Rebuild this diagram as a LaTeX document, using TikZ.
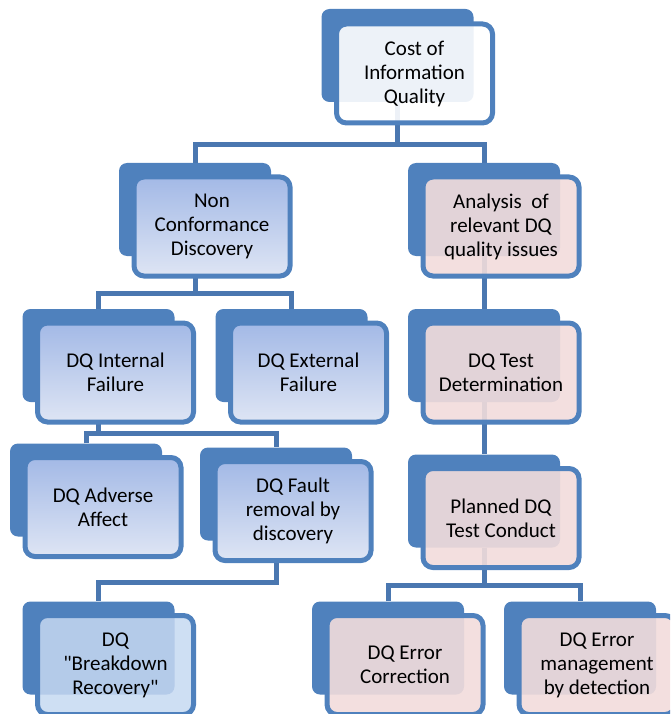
\documentclass[tikz,border=0pt]{standalone}
\usepackage{fontspec}
\setmainfont{Carlito}
\usetikzlibrary{calc}
\usetikzlibrary{backgrounds}
\definecolor{dqblue}{HTML}{4F81BD}
\definecolor{dqline}{HTML}{4A77B0}
\definecolor{dqtop}{HTML}{A3B9E6}
\definecolor{dqbot}{HTML}{DEE5F4}
\definecolor{dqpink}{HTML}{F2DCDB}
\definecolor{dqpale}{HTML}{C6D9F1}

\begin{document}
\begin{tikzpicture}[x=1pt,y=-1pt,
  back/.style={fill=dqblue,rounded corners=8pt,minimum width=152pt,minimum height=93pt,inner sep=0pt},
  front/.style={draw=dqblue,line width=5pt,rounded corners=10pt,minimum width=156pt,minimum height=99pt,
    inner sep=0pt,align=center,text opacity=1,font=\fontsize{21}{24}\selectfont},
  shadeblue/.style={top color=dqtop,bottom color=dqbot},
  tintwhite/.style={fill=white,fill opacity=0.9},
  tintpink/.style={fill=dqpink,fill opacity=0.9},
  tintpale/.style={fill=dqpale,fill opacity=0.85},
  conn/.style={draw=dqline,line width=5pt}]
\path[use as bounding box,clip] (0,0) rectangle (670,714);

% boxes: dark back plate, then framed front plate
\node[back] (costB) at (397.5,55.5) {};
\node[front,tintwhite] (cost) at ($(costB)+(17,18)$) {Cost of\\Information\\Quality};
\node[back] (nonB) at (195,209.5) {};
\node[front,shadeblue] (non) at ($(nonB)+(17,17)$) {Non\\Conformance\\Discovery};
\node[back] (anaB) at (484,209.5) {};
\node[front,tintpink] (ana) at ($(anaB)+(17,17)$) {Analysis~ of\\relevant DQ\\quality issues};
\node[back] (intB) at (98.5,355.5) {};
\node[front,shadeblue] (int) at ($(intB)+(17,17)$) {DQ Internal\\Failure};
\node[back] (extB) at (291.5,355.5) {};
\node[front,shadeblue] (ext) at ($(extB)+(17,17)$) {DQ External\\Failure};
\node[back] (testB) at (484,355.5) {};
\node[front,tintpink] (test) at ($(testB)+(17,17)$) {DQ Test\\Determination};
\node[back] (planB) at (484,501) {};
\node[front,tintpink] (plan) at ($(planB)+(17,17)$) {Planned DQ\\Test Conduct};
\node[back] (advB) at (86,490) {};
\node[front,shadeblue] (adv) at ($(advB)+(17,17)$) {DQ Adverse\\Affect};
\node[back] (faultB) at (276,494) {};
\node[front,shadeblue] (fault) at ($(faultB)+(17,17)$) {DQ Fault\\removal by\\discovery};
\node[back] (brkB) at (98.5,648) {};
\node[front,tintpale] (brk) at ($(brkB)+(17,17)$) {DQ\\\textquotedbl Breakdown\\Recovery\textquotedbl};
\node[back] (corB) at (388,648) {};
\node[front,tintpink] (cor) at ($(corB)+(17,17)$) {DQ Error\\Correction};
\node[back] (manB) at (580,648) {};
\node[front,tintpink] (man) at ($(manB)+(17,17)$) {DQ Error\\management\\by detection};

% connectors behind the plates
\begin{pgfonlayer}{background}
\coordinate (j1) at ($(cost.south)!.5!(nonB.north)$);
\draw[conn] (nonB.north) |- (costB.south |- j1) -| (anaB.north);
\draw[conn] (costB.south) -- (costB.south |- j1);
\coordinate (j2) at ($(non.south)!.5!(intB.north)$);
\draw[conn] (intB.north) |- (nonB.south |- j2) -| (extB.north);
\draw[conn] (nonB.south) -- (nonB.south |- j2);
\coordinate (j3) at ($(int.south)!.5!(advB.north)$);
\draw[conn] (advB.north) |- (intB.south |- j3) -| (faultB.north);
\draw[conn] (intB.south) -- (intB.south |- j3);
\coordinate (j4) at ($(fault.south)!.5!(brkB.north)$);
\draw[conn] (faultB.south) |- (j4) -| (brkB.north);
\draw[conn] (anaB.south) -- (testB.north);
\draw[conn] (testB.south) -- (planB.north);
\coordinate (j5) at ($(plan.south)!.5!(corB.north)$);
\draw[conn] (corB.north) |- (planB.south |- j5) -| (manB.north);
\draw[conn] (planB.south) -- (planB.south |- j5);
\end{pgfonlayer}
\end{tikzpicture}
\end{document}
